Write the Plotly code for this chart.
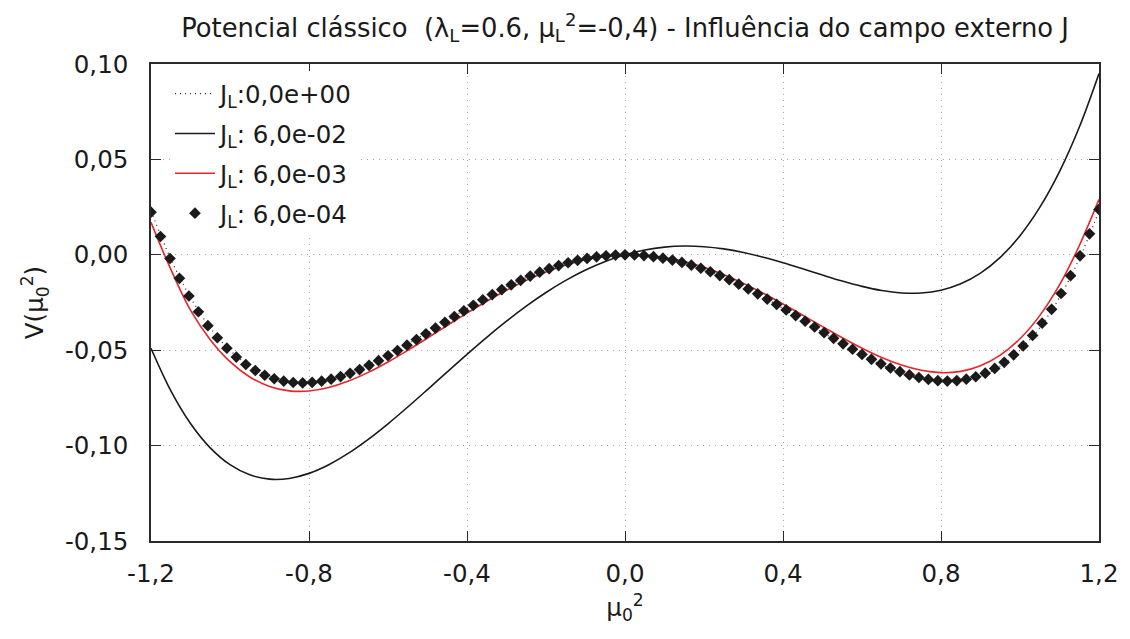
import plotly.graph_objects as go

# ---- data ----
x_line = [-1.2, -1.15, -1.1, -1.05, -1.0, -0.95, -0.9, -0.85, -0.8, -0.75, -0.7, -0.65, -0.6,
          -0.55, -0.5, -0.45, -0.4, -0.35, -0.3, -0.25, -0.2, -0.15, -0.1, -0.05, 0.0,
          0.05, 0.1, 0.15, 0.2, 0.25, 0.3, 0.35, 0.4, 0.45, 0.5, 0.55, 0.6, 0.65, 0.7,
          0.75, 0.8, 0.85, 0.9, 0.95, 1.0, 1.05, 1.1, 1.15, 1.2]

v_j0 = [0.02304, -0.002149, -0.022385, -0.038174, -0.05, -0.058324, -0.063585, -0.066199,
        -0.06656, -0.065039, -0.061985, -0.057724, -0.05256, -0.046774, -0.040625, -0.034349,
        -0.02816, -0.022249, -0.016785, -0.011914, -0.00776, -0.004424, -0.001985, -0.000499, 0.0,
        -0.000499, -0.001985, -0.004424, -0.00776, -0.011914, -0.016785, -0.022249, -0.02816,
        -0.034349, -0.040625, -0.046774, -0.05256, -0.057724, -0.061985, -0.065039, -0.06656,
        -0.066199, -0.063585, -0.058324, -0.05, -0.038174, -0.022385, -0.002149, 0.02304]

v_j6e2 = [-0.04896, -0.071149, -0.088385, -0.101174, -0.11, -0.115324, -0.117585, -0.117199,
          -0.11456, -0.110039, -0.103985, -0.096724, -0.08856, -0.079774, -0.070625, -0.061349,
          -0.05216, -0.043249, -0.034785, -0.026914, -0.01976, -0.013424, -0.007985, -0.003499, 0.0,
          0.002501, 0.004015, 0.004576, 0.00424, 0.003086, 0.001215, -0.001249, -0.00416,
          -0.007349, -0.010625, -0.013774, -0.01656, -0.018724, -0.019985, -0.020039, -0.01856,
          -0.015199, -0.009585, -0.001324, 0.01, 0.024826, 0.043615, 0.066851, 0.09504]

v_j6e3 = [0.01704, -0.007549, -0.028985, -0.044474, -0.056, -0.064024, -0.068985, -0.071299,
          -0.07136, -0.069539, -0.066185, -0.061624, -0.05616, -0.050074, -0.043625, -0.037049,
          -0.03056, -0.024349, -0.018585, -0.013414, -0.00896, -0.005324, -0.002585, -0.000799, 0.0,
          -0.000199, -0.001385, -0.003524, -0.00656, -0.010414, -0.014985, -0.020149, -0.02576,
          -0.031649, -0.037625, -0.043474, -0.04896, -0.053824, -0.057785, -0.060539, -0.06176,
          -0.061099, -0.058185, -0.052624, -0.044, -0.031874, -0.015785, 0.004751, 0.02904]

x_pts = [-1.2, -1.176, -1.152, -1.128, -1.104, -1.08, -1.056, -1.032, -1.008, -0.984,
         -0.96, -0.936, -0.912, -0.888, -0.864, -0.84, -0.816, -0.792, -0.768, -0.744,
         -0.72, -0.696, -0.672, -0.648, -0.624, -0.6, -0.576, -0.552, -0.528, -0.504,
         -0.48, -0.456, -0.432, -0.408, -0.384, -0.36, -0.336, -0.312, -0.288, -0.264,
         -0.24, -0.216, -0.192, -0.168, -0.144, -0.12, -0.096, -0.072, -0.048, -0.024,
         0.0,
         0.024, 0.048, 0.072, 0.096, 0.12, 0.144, 0.168, 0.192, 0.216, 0.24,
         0.264, 0.288, 0.312, 0.336, 0.36, 0.384, 0.408, 0.432, 0.456, 0.48,
         0.504, 0.528, 0.552, 0.576, 0.6, 0.624, 0.648, 0.672, 0.696, 0.72,
         0.744, 0.768, 0.792, 0.816, 0.84, 0.864, 0.888, 0.912, 0.936, 0.96,
         0.984, 1.008, 1.032, 1.056, 1.08, 1.104, 1.128, 1.152, 1.176, 1.2]

v_j6e4 = [0.02232, 0.00959, -0.00193, -0.01231, -0.02160, -0.02986, -0.03713, -0.04348, -0.04896, -0.05361,
          -0.05749, -0.06065, -0.06313, -0.06497, -0.06623, -0.06694, -0.06716, -0.06691, -0.06624, -0.06519,
          -0.06380, -0.06210, -0.06013, -0.05792, -0.05551, -0.05292, -0.05019, -0.04735, -0.04442, -0.04143,
          -0.03841, -0.03538, -0.03236, -0.02938, -0.02646, -0.02362, -0.02087, -0.01823, -0.01573, -0.01337,
          -0.01117, -0.00913, -0.00728, -0.00563, -0.00417, -0.00292, -0.00189, -0.00108, -0.00049, -0.00013,
          0.0,
          -0.00010, -0.00043, -0.00099, -0.00177, -0.00278, -0.00400, -0.00542, -0.00705, -0.00888, -0.01088,
          -0.01305, -0.01538, -0.01786, -0.02047, -0.02319, -0.02600, -0.02889, -0.03184, -0.03483, -0.03783,
          -0.04082, -0.04378, -0.04668, -0.04950, -0.05220, -0.05476, -0.05714, -0.05932, -0.06127, -0.06294,
          -0.06430, -0.06532, -0.06596, -0.06618, -0.06594, -0.06519, -0.06391, -0.06203, -0.05953, -0.05634,
          -0.05243, -0.04775, -0.04224, -0.03586, -0.02856, -0.02027, -0.01096, -0.00055, 0.01100, 0.02376]

names = ["J<sub>L</sub>:0,0e+00", "J<sub>L</sub>: 6,0e-02", "J<sub>L</sub>: 6,0e-03", "J<sub>L</sub>: 6,0e-04"]

x_ticks = [-1.2, -0.8, -0.4, 0.0, 0.4, 0.8, 1.2]
x_tick_labels = ["-1,2", "-0,8", "-0,4", "0,0", "0,4", "0,8", "1,2"]
y_ticks = [-0.15, -0.10, -0.05, 0.0, 0.05, 0.10]
y_tick_labels = ["-0,15", "-0,10", "-0,05", "0,00", "0,05", "0,10"]

FONT = "DejaVu Sans"
FS = 24.5
TXT = "#1a1a1a"

fig = go.Figure()
fig.add_trace(go.Scatter(x=x_line, y=v_j0, mode="lines", name=names[0], legendgroup="a",
                         line=dict(color="#222222", width=1.2, dash="1px,4px", shape="spline")))
fig.add_trace(go.Scatter(x=x_line, y=v_j6e2, mode="lines", name=names[1], legendgroup="b",
                         line=dict(color="#1a1a1a", width=1.6, shape="spline")))
fig.add_trace(go.Scatter(x=x_line, y=v_j6e3, mode="lines", name=names[2], legendgroup="c",
                         line=dict(color="#e8242a", width=1.6, shape="spline")))
fig.add_trace(go.Scatter(x=x_pts, y=v_j6e4, mode="markers", name=names[3], legendgroup="d",
                         marker=dict(symbol="diamond", size=9, color="#1a1a1a", line=dict(width=0))))

axis_common = dict(
    showgrid=True, gridcolor="#a8a8a8", gridwidth=1, griddash="1px,5px",
    zeroline=False, showline=True, linecolor="#2a2a2a", linewidth=1.5, mirror="ticks",
    ticks="inside", ticklen=10, tickcolor="#2a2a2a", tickwidth=1,
    tickfont=dict(family=FONT, size=FS, color=TXT),
)

fig.update_layout(
    width=1130, height=639,
    margin=dict(l=151, r=29, t=64, b=98),
    paper_bgcolor="white", plot_bgcolor="white",
    font=dict(family=FONT, size=FS, color=TXT),
    title=dict(text="Potencial clássico \u00a0(λ<sub>L</sub>=0.6, μ<sub>L</sub><sup>2</sup>=-0,4) - Influência do campo externo J",
               x=0.5, xanchor="center", xref="paper", y=1 - 28 / 639, yanchor="middle", yref="container",
               font=dict(family=FONT, size=25.8, color=TXT)),
    xaxis=dict(range=[-1.2, 1.2], tickvals=x_ticks, ticktext=x_tick_labels, ticklabelstandoff=10,
               title=dict(text="μ<sub>0</sub><sup>2</sup>", standoff=12,
                          font=dict(family=FONT, size=FS)), **axis_common),
    yaxis=dict(range=[-0.15, 0.10], tickvals=y_ticks, ticktext=y_tick_labels, ticklabelstandoff=16,
               title=dict(text="V(μ<sub>0</sub><sup>2</sup>)", standoff=14,
                          font=dict(family=FONT, size=FS)), **axis_common),
    legend=dict(x=0.02, y=0.985, xanchor="left", yanchor="top", bgcolor="white",
                borderwidth=0, font=dict(family=FONT, size=FS, color=TXT),
                tracegroupgap=5, itemwidth=40),
    showlegend=True,
)

fig.write_html("out.html")
